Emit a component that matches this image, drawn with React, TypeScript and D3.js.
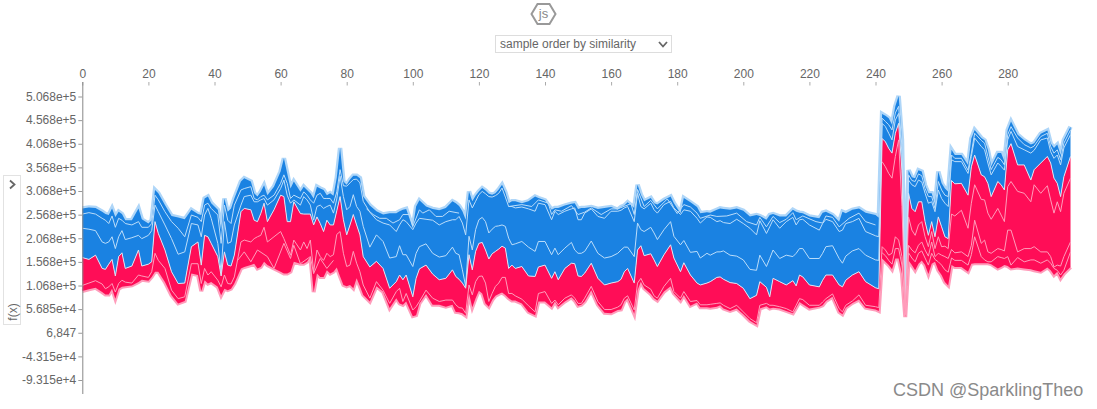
import React, { useRef, useEffect } from 'react';
import * as d3 from 'd3';

const xTicks = d3.range(0, 281, 20);
const yTicks = [506.8, 456.8, 406.8, 356.8, 306.8, 256.8, 206.8, 156.8, 106.8, 56.85, 6.847, -43.15, -93.15];
const yTickLabels = ['5.068e+5', '4.568e+5', '4.068e+5', '3.568e+5', '3.068e+5', '2.568e+5', '2.068e+5', '1.568e+5', '1.068e+5', '5.685e+4', '6,847', '-4.315e+4', '-9.315e+4'];

const sampleIdx = [
  0, 2, 4, 6, 7, 8, 9, 10, 11, 12,
  13, 15, 17, 18, 20, 21, 22, 23, 25, 27,
  29, 31, 33, 35, 36, 37, 38, 39, 41, 42,
  43, 44, 45, 46, 48, 49, 51, 52, 53, 54,
  55, 56, 58, 60, 61, 62, 63, 64, 66, 67,
  68, 69, 70, 71, 72, 73, 74, 75, 76, 77,
  78, 79, 80, 81, 82, 83, 84, 85, 87, 89,
  91, 93, 95, 96, 97, 98, 100, 101, 102, 104,
  106, 108, 110, 112, 113, 114, 115, 116, 117, 118,
  119, 120, 121, 122, 123, 124, 125, 126, 127, 128,
  129, 130, 131, 133, 135, 137, 138, 140, 142, 143,
  144, 146, 148, 149, 150, 151, 152, 154, 156, 158,
  160, 162, 163, 164, 165, 167, 168, 169, 170, 172,
  173, 174, 176, 178, 179, 181, 182, 184, 186, 187,
  189, 190, 192, 193, 194, 196, 198, 200, 202, 204,
  205, 207, 208, 209, 211, 213, 215, 216, 217, 218,
  220, 223, 224, 225, 227, 229, 230, 231, 233, 235,
  237, 240, 241, 242, 243, 244, 245, 246, 247, 248,
  249, 250, 251, 252, 253, 254, 255, 256, 257, 258,
  259, 260, 261, 262, 263, 264, 266, 268, 269, 270,
  272, 273, 274, 275, 277, 278, 279, 280, 281, 283,
  285, 287, 288, 290, 292, 293, 294, 295, 296, 297,
  299,
];

// all series in thousands of f(x)
const outerTop = [
  270, 272, 271, 263, 258, 256, 270, 252, 263, 258,
  245, 245, 270, 247, 238, 245, 309, 302, 277, 254,
  251, 247, 267, 258, 256, 291, 295, 281, 267, 224,
  291, 263, 270, 291, 327, 334, 327, 302, 295, 305,
  319, 298, 316, 348, 376, 344, 312, 327, 305, 316,
  309, 302, 291, 316, 312, 309, 298, 302, 297, 335,
  398, 327, 320, 331, 339, 339, 334, 295, 276, 264,
  257, 260, 260, 264, 267, 269, 228, 274, 287, 274,
  269, 266, 271, 285, 281, 275, 264, 246, 306, 285,
  297, 306, 313, 308, 301, 299, 302, 310, 320, 304,
  281, 285, 285, 281, 285, 295, 292, 287, 267, 271,
  271, 276, 280, 281, 269, 271, 271, 273, 269, 271,
  273, 267, 273, 276, 283, 271, 320, 299, 285, 292,
  281, 278, 288, 295, 281, 260, 292, 283, 273, 260,
  262, 261, 267, 270, 269, 267, 270, 265, 253, 256,
  254, 246, 256, 258, 253, 253, 267, 263, 261, 260,
  253, 249, 261, 263, 256, 242, 263, 260, 267, 270,
  261, 256, 250, 470, 466, 461, 447, 486, 508, 415,
  83, 351, 336, 334, 351, 348, 319, 302, 302, 277,
  348, 323, 312, 305, 394, 383, 383, 362, 418, 436,
  419, 414, 394, 359, 387, 387, 369, 436, 454, 426,
  414, 405, 408, 428, 435, 408, 398, 405, 383, 415,
  443,
];
const blueUpper = [
  258, 261, 258, 249, 245, 238, 254, 230, 249, 245,
  238, 235, 242, 230, 230, 238, 298, 288, 263, 242,
  228, 210, 256, 251, 242, 277, 281, 270, 256, 196,
  277, 245, 238, 277, 309, 312, 316, 291, 288, 295,
  298, 288, 298, 323, 341, 323, 291, 298, 291, 305,
  298, 288, 281, 298, 302, 291, 291, 291, 281, 305,
  352, 318, 317, 324, 331, 332, 324, 285, 262, 246,
  239, 235, 221, 235, 246, 242, 225, 239, 249, 247,
  245, 235, 242, 246, 246, 253, 239, 214, 288, 271,
  285, 299, 306, 301, 295, 294, 297, 302, 313, 294,
  274, 274, 271, 273, 269, 264, 281, 278, 246, 264,
  257, 264, 269, 271, 246, 246, 260, 269, 253, 249,
  264, 264, 266, 271, 274, 242, 302, 274, 269, 281,
  267, 260, 278, 285, 271, 257, 267, 264, 249, 239,
  252, 251, 242, 244, 240, 238, 247, 238, 228, 214,
  244, 217, 231, 246, 228, 242, 251, 235, 246, 247,
  235, 224, 238, 247, 242, 221, 224, 238, 242, 249,
  221, 212, 210, 461, 454, 447, 436, 472, 486, 401,
  79, 341, 329, 327, 343, 339, 312, 295, 295, 270,
  327, 309, 298, 295, 383, 376, 376, 351, 387, 429,
  414, 408, 380, 352, 378, 373, 362, 426, 443, 419,
  405, 398, 402, 422, 429, 401, 387, 394, 373, 408,
  436,
];
const blueMid = [
  228, 226, 223, 199, 196, 199, 210, 185, 210, 223,
  204, 208, 213, 206, 213, 223, 277, 263, 235, 206,
  173, 178, 238, 235, 210, 256, 270, 249, 196, 136,
  242, 196, 199, 235, 277, 295, 298, 284, 284, 288,
  291, 277, 288, 312, 330, 298, 281, 288, 277, 295,
  288, 277, 245, 274, 277, 270, 274, 277, 260, 290,
  338, 295, 267, 274, 299, 274, 264, 232, 188, 214,
  200, 165, 168, 191, 172, 172, 147, 175, 189, 195,
  175, 167, 170, 188, 175, 172, 140, 105, 211, 182,
  225, 246, 251, 242, 218, 226, 232, 233, 235, 232,
  207, 193, 195, 200, 188, 179, 200, 200, 172, 186,
  172, 186, 198, 182, 175, 175, 179, 201, 175, 165,
  168, 175, 182, 188, 188, 168, 239, 225, 221, 230,
  218, 204, 225, 242, 211, 193, 202, 177, 179, 165,
  175, 171, 178, 178, 180, 171, 169, 161, 141, 139,
  171, 147, 164, 182, 164, 171, 168, 175, 185, 185,
  164, 164, 175, 189, 191, 164, 154, 169, 180, 185,
  171, 161, 160, 450, 443, 429, 415, 457, 471, 387,
  76, 330, 320, 316, 330, 326, 302, 281, 284, 263,
  309, 291, 281, 274, 373, 369, 369, 344, 380, 419,
  401, 394, 366, 341, 366, 359, 351, 415, 433, 401,
  394, 387, 393, 415, 419, 390, 376, 383, 362, 398,
  426,
];
const boundary = [
  166, 162, 171, 143, 141, 152, 162, 127, 168, 176,
  143, 148, 182, 148, 152, 157, 242, 217, 182, 136,
  111, 112, 189, 199, 150, 213, 210, 196, 168, 127,
  178, 150, 148, 171, 263, 270, 267, 245, 242, 259,
  281, 242, 267, 298, 295, 242, 242, 284, 259, 258,
  258, 258, 235, 252, 238, 221, 245, 235, 235, 265,
  295, 246, 214, 235, 257, 235, 214, 168, 146, 158,
  143, 101, 115, 129, 119, 129, 83, 122, 142, 150,
  131, 119, 122, 140, 126, 120, 112, 101, 172, 140,
  179, 196, 198, 182, 163, 174, 179, 184, 190, 186,
  143, 150, 143, 147, 127, 126, 146, 150, 122, 136,
  119, 143, 154, 153, 127, 126, 133, 154, 122, 108,
  112, 115, 120, 136, 143, 112, 182, 191, 170, 174,
  161, 147, 172, 193, 165, 136, 155, 129, 112, 108,
  112, 115, 124, 125, 120, 113, 111, 101, 79, 86,
  115, 103, 83, 122, 115, 108, 117, 106, 129, 125,
  108, 104, 118, 129, 129, 108, 104, 118, 129, 136,
  115, 102, 100, 418, 411, 397, 387, 429, 450, 351,
  69, 302, 270, 263, 284, 284, 242, 213, 242, 210,
  252, 231, 210, 206, 329, 322, 323, 298, 358, 383,
  341, 337, 323, 295, 327, 320, 309, 394, 407, 362,
  362, 330, 352, 366, 380, 366, 334, 323, 295, 337,
  380,
];
const redLower = [
  107, 112, 117, 110, 100, 104, 111, 93, 111, 118,
  114, 112, 129, 127, 124, 136, 175, 160, 143, 97,
  79, 83, 153, 153, 111, 143, 129, 136, 118, 104,
  129, 111, 110, 125, 199, 203, 199, 206, 210, 213,
  230, 199, 210, 221, 206, 189, 171, 203, 182, 199,
  185, 203, 136, 182, 168, 160, 175, 168, 172, 215,
  221, 175, 147, 150, 179, 154, 136, 108, 80, 115,
  97, 69, 94, 101, 73, 90, 55, 62, 73, 97,
  80, 73, 76, 76, 66, 60, 59, 48, 108, 87,
  115, 126, 127, 112, 73, 90, 105, 112, 124, 124,
  90, 90, 85, 78, 64, 51, 90, 94, 69, 76,
  66, 80, 87, 80, 69, 69, 80, 105, 73, 56,
  56, 61, 66, 80, 85, 55, 112, 122, 108, 99,
  85, 80, 105, 122, 94, 80, 94, 73, 75, 66,
  66, 67, 69, 70, 65, 58, 65, 51, 37, 28,
  65, 69, 65, 65, 62, 58, 51, 65, 79, 77,
  65, 65, 72, 79, 89, 58, 51, 65, 74, 87,
  65, 62, 60, 189, 182, 171, 175, 210, 203, 168,
  47, 192, 182, 176, 192, 199, 182, 169, 199, 168,
  175, 171, 168, 164, 183, 176, 178, 168, 192, 245,
  196, 203, 178, 175, 185, 183, 180, 224, 224, 178,
  185, 185, 189, 178, 178, 168, 146, 150, 148, 168,
  199,
];
const outerBottom = [
  95, 99, 102, 93, 88, 88, 100, 79, 100, 104,
  105, 107, 114, 119, 117, 125, 136, 136, 114, 86,
  69, 74, 132, 129, 95, 118, 111, 114, 104, 86,
  100, 97, 100, 111, 143, 146, 150, 153, 143, 146,
  157, 150, 143, 136, 132, 132, 136, 157, 153, 153,
  157, 168, 93, 132, 125, 125, 139, 132, 136, 145,
  126, 108, 105, 108, 101, 122, 105, 87, 73, 105,
  94, 59, 80, 69, 66, 73, 42, 44, 69, 89,
  66, 66, 62, 66, 51, 50, 48, 43, 90, 61,
  80, 96, 90, 69, 62, 76, 85, 89, 92, 87,
  80, 75, 75, 69, 51, 44, 73, 73, 61, 73,
  62, 73, 82, 75, 64, 66, 73, 97, 66, 49,
  48, 55, 56, 73, 80, 47, 97, 115, 101, 89,
  80, 75, 94, 105, 90, 75, 87, 64, 71, 61,
  61, 60, 62, 65, 58, 53, 58, 46, 32, 24,
  58, 63, 58, 60, 58, 53, 48, 60, 72, 67,
  58, 62, 65, 74, 83, 51, 46, 60, 70, 77,
  60, 56, 53, 164, 157, 150, 141, 164, 164, 132,
  40, 160, 150, 139, 153, 160, 150, 131, 153, 157,
  139, 129, 114, 107, 150, 146, 146, 136, 153, 154,
  154, 154, 154, 152, 143, 146, 150, 148, 143, 145,
  143, 141, 139, 136, 145, 139, 129, 136, 122, 132,
  146,
];

// two more lines that only show in the red block on the right
const rightIdx = [
  242, 243, 244, 245, 246, 247, 248, 249, 250, 251,
  252, 253, 254, 255, 256, 257, 258, 259, 260, 261,
  262, 263, 264, 266, 268, 269, 270, 272, 273, 274,
  275, 277, 278, 279, 280, 281, 283, 285, 287, 288,
  290, 292, 293, 294, 295, 296, 297, 299,
];
const redUpperRight = [
  369, 358, 344, 334, 380, 415, 274, 58, 252, 224,
  213, 235, 242, 210, 189, 221, 185, 210, 189, 190,
  185, 258, 254, 266, 228, 281, 320, 289, 288, 260,
  247, 270, 256, 242, 316, 327, 306, 302, 284, 320,
  302, 318, 288, 260, 284, 263, 302, 334,
];
const redBaseRight = [
  176, 170, 160, 152, 185, 185, 150, 44, 176, 165,
  157, 175, 180, 165, 150, 175, 162, 157, 150, 140,
  135, 165, 160, 160, 150, 172, 210, 168, 161, 157,
  157, 168, 166, 164, 168, 150, 166, 157, 161, 161,
  154, 161, 154, 143, 139, 129, 139, 178,
];

// second pink line in the raised part around samples 47-76
const redSecondIdx = [47, 49, 51, 53, 56, 58, 61, 63, 64, 66, 69, 70, 72, 74, 76];
const redSecond = [160, 178, 157, 182, 168, 143, 196, 164, 192, 153, 168, 132, 164, 143, 160];

// lines that run just under the top edge of the blue block
const nearTopAIdx = [86, 88, 90, 92, 94, 96, 97, 99, 100, 102, 103, 105, 107, 109, 111, 114];
const nearTopA = [269, 257, 249, 249, 239, 246, 257, 257, 232, 267, 260, 267, 253, 253, 264, 260];
const nearTopBIdx = [
  129, 133, 136, 138, 141, 142, 143, 145, 148, 150,
  152, 154, 157, 160, 162, 166, 167, 168, 170, 172,
  174, 177, 180, 182, 184, 186, 187, 190, 192, 195,
  198, 201, 204, 205, 207, 209, 211, 213, 215, 216,
  218, 222, 224, 225, 227, 229, 232, 235, 237, 240,
];
const nearTopB = [
  274, 278, 274, 288, 281, 257, 267, 264, 276, 257,
  262, 271, 257, 269, 269, 280, 257, 310, 274, 287,
  269, 290, 259, 278, 273, 260, 249, 256, 253, 254,
  260, 242, 235, 251, 231, 253, 240, 247, 261, 246,
  254, 242, 239, 254, 251, 231, 249, 260, 242, 235,
];

const BLUE = '#1A82E2';
const RED = '#FF0D57';
const GREY = '#666';

const App: React.FC = () => {
  const svgRef = useRef<SVGSVGElement>(null);

  useEffect(() => {
    if (!svgRef.current) return;
    const svg = d3.select(svgRef.current);
    svg.selectAll('*').remove();

    const font = '"Liberation Sans", Arial, sans-serif';
    const x = d3.scaleLinear().domain([0, 299]).range([82.3, 1070.5]);
    const y = d3.scaleLinear().domain([537.5, -127]).range([82, 396]);

    const bands = (top: number[], bottom: number[]) =>
      d3.area<number>()
        .x((d) => x(d))
        .y0((_, i) => y(bottom[i]))
        .y1((_, i) => y(top[i]))(sampleIdx);
    const lineOf = (idx: number[], vals: number[]) =>
      d3.line<number>().x((d) => x(d)).y((_, i) => y(vals[i]))(idx);

    // stacked areas
    svg.append('path').attr('d', lineOf(sampleIdx, outerTop)).attr('fill', 'none')
      .attr('stroke', '#AFD6F8').attr('stroke-width', 4.5);
    svg.append('path').attr('d', lineOf(sampleIdx, outerBottom)).attr('fill', 'none')
      .attr('stroke', '#FF9DBB').attr('stroke-width', 4);
    svg.append('path').attr('d', bands(outerTop, boundary)).attr('fill', BLUE);
    svg.append('path').attr('d', bands(boundary, outerBottom)).attr('fill', RED);

    // feature lines inside the areas
    svg.append('path').attr('d', lineOf(sampleIdx, blueUpper)).attr('fill', 'none')
      .attr('stroke', '#BBDDFA').attr('stroke-width', 1);
    svg.append('path').attr('d', lineOf(sampleIdx, blueMid)).attr('fill', 'none')
      .attr('stroke', '#BBDDFA').attr('stroke-width', 1);
    svg.append('path').attr('d', lineOf(nearTopAIdx, nearTopA)).attr('fill', 'none')
      .attr('stroke', '#BBDDFA').attr('stroke-width', 1);
    svg.append('path').attr('d', lineOf(nearTopBIdx, nearTopB)).attr('fill', 'none')
      .attr('stroke', '#BBDDFA').attr('stroke-width', 1);
    svg.append('path').attr('d', lineOf(sampleIdx, boundary)).attr('fill', 'none')
      .attr('stroke', '#D9E4F5').attr('stroke-width', 1);
    svg.append('path').attr('d', lineOf(sampleIdx, redLower)).attr('fill', 'none')
      .attr('stroke', '#FF9DBB').attr('stroke-width', 1);
    svg.append('path').attr('d', lineOf(redSecondIdx, redSecond)).attr('fill', 'none')
      .attr('stroke', '#FF9DBB').attr('stroke-width', 1);
    [redUpperRight, redBaseRight].forEach((vals) => {
      svg.append('path').attr('d', lineOf(rightIdx, vals)).attr('fill', 'none')
        .attr('stroke', '#FF9DBB').attr('stroke-width', 1);
    });

    // top axis
    const xAxis = svg.append('g')
      .attr('transform', 'translate(0,82)')
      .call(d3.axisTop(x).tickValues(xTicks).tickSizeInner(-3.5).tickSizeOuter(0).tickPadding(4));
    xAxis.select('.domain').remove();
    xAxis.selectAll('line').attr('stroke', '#aaa');
    xAxis.selectAll('text').attr('fill', GREY).attr('font-size', 12).attr('font-family', font);

    // left axis
    const yAxis = svg.append('g')
      .attr('transform', 'translate(82.3,0)')
      .call(d3.axisLeft(y).tickValues(yTicks).tickSizeInner(4).tickSizeOuter(0).tickPadding(2)
        .tickFormat((_, i) => yTickLabels[i]));
    yAxis.select('.domain').attr('stroke', '#888').attr('d', 'M0.5,82V394');
    yAxis.selectAll('line').attr('stroke', '#999');
    yAxis.selectAll('text').attr('fill', GREY).attr('font-size', 12).attr('font-family', font);

    // js badge
    const hex = d3.line()([[531.5, 14], [537.5, 4], [549.5, 4], [555.5, 14], [549.5, 24], [537.5, 24]]) + 'Z';
    svg.append('path').attr('d', hex).attr('fill', 'none').attr('stroke', '#999').attr('stroke-width', 2);
    svg.append('text').attr('x', 543.5).attr('y', 18).attr('text-anchor', 'middle')
      .attr('font-size', 13).attr('font-family', font).attr('fill', '#888').text('js');

    // ordering dropdown
    svg.append('rect').attr('x', 495.5).attr('y', 35.5).attr('width', 176).attr('height', 17)
      .attr('fill', '#fff').attr('stroke', '#ddd');
    svg.append('text').attr('x', 500).attr('y', 48).attr('font-size', 12).attr('font-family', font)
      .attr('fill', GREY).text('sample order by similarity');
    svg.append('path').attr('d', 'M659,42L663,46.5L667,42').attr('fill', 'none').attr('stroke', GREY).attr('stroke-width', 1.8);

    // y feature selector
    svg.append('rect').attr('x', 3.5).attr('y', 175.5).attr('width', 17).attr('height', 149)
      .attr('fill', 'none').attr('stroke', '#e2e2e2');
    svg.append('path').attr('d', 'M10,180.5L14.5,184.5L10,188.5').attr('fill', 'none').attr('stroke', GREY).attr('stroke-width', 1.8);
    svg.append('text').attr('transform', 'translate(16.5,312) rotate(-90)').attr('text-anchor', 'middle')
      .attr('font-size', 12).attr('font-family', font).attr('fill', GREY).text('f(x)');

    // watermark
    svg.append('text').attr('x', 893).attr('y', 396).attr('font-size', 18).attr('font-family', font)
      .attr('fill', '#8a8a8a').text('CSDN @SparklingTheo');
  }, []);

  return <svg ref={svgRef} width={1097} height={409} style={{ position: 'absolute', left: 0, top: 0 }} />;
};

export default App;
